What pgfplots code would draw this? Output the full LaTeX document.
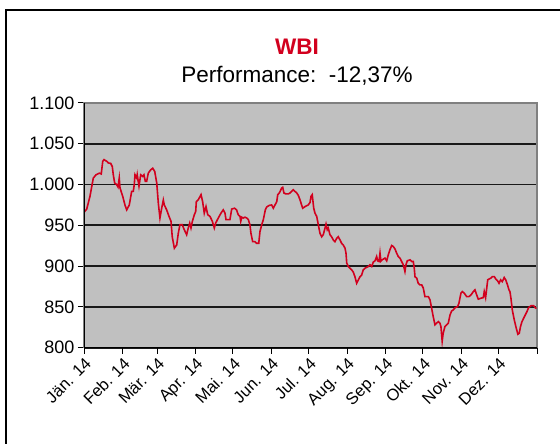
\documentclass[border=0pt]{standalone}
\usepackage{fontspec}
\setmainfont{Liberation Sans}
\usepackage{pgfplots}
\pgfplotsset{compat=1.18}
\definecolor{wbired}{RGB}{210,0,30}
\definecolor{bggray}{RGB}{192,192,192}
\definecolor{bordergray}{RGB}{128,128,128}
\begin{document}
\begin{tikzpicture}[x=1pt,y=1pt]
\useasboundingbox (0,0) rectangle (560,444);
\fill[white] (0,0) rectangle (560,444);
\draw[line width=1.4pt] (6,-20) -- (6,434) -- (600,434);
\node[anchor=base, text=wbired, font=\fontsize{22.5}{26}\selectfont\bfseries, inner sep=0pt] at (297,389) {WBI};
\node[anchor=base, font=\fontsize{22.5}{26}\selectfont, inner sep=0pt] at (297,361) {Performance:~~-12,37\%};
\begin{axis}[
  at={(84pt,96.3pt)}, anchor=south west,
  scale only axis, width=453pt, height=244.7pt,
  xmin=0, xmax=365, ymin=800, ymax=1100,
  xtick={0,31,59,90,120,151,181,212,243,273,304,334,365},
  xticklabels={Jän. 14,Feb. 14,Mär. 14,Apr. 14,Mai. 14,Jun. 14,Jul. 14,Aug. 14,Sep. 14,Okt. 14,Nov. 14,Dez. 14,{}},
  ytick={800,850,900,950,1000,1050,1100},
  yticklabels={800,850,900,950,1.000,1.050,1.100},
  axis background/.style={fill=bggray},
  ymajorgrids, major grid style={black!90, line width=1.8pt},
  axis line style={draw=bordergray, line width=1.5pt},
  tick align=outside, xtick pos=left, ytick pos=left,
  major tick length=6pt,
  every tick/.style={black, line width=1pt},
  y tick label style={font=\fontsize{18}{20}\selectfont},
  x tick label style={font=\fontsize{16.5}{18}\selectfont, rotate=45, anchor=north east, inner sep=2pt},
]
\addplot[wbired, line width=1.6pt, no marks] coordinates {
(0,966) (2.2,970) (4.8,985.5) (7.5,1008) (9.7,1012) (12.3,1014) (13.9,1013) (15.1,1028.5) (16.1,1030.6) (18.3,1028.5)
(19.6,1026.5) (21.5,1026) (22.8,1022) (23.6,1012) (24.7,1002) (26.3,1000) (27.4,997) (28.4,1008) (29.0,996) (31.2,985.5)
(33.0,975) (34.4,969) (36.5,975) (38.4,991.6) (39.7,991.6) (40.5,1000) (41.1,1012) (42.5,1008) (42.9,1012) (44.3,998)
(45.7,1012) (47.3,1010) (48.3,1012) (49.4,1004) (50.5,1004) (51.8,1014) (53.7,1018) (55.4,1020) (57.0,1016) (58.6,1002)
(59.9,977) (61.2,959) (62.6,971) (63.9,981) (64.7,975) (66.6,969) (68.5,961) (70.1,955) (71.1,936) (72.8,922)
(74.7,926) (76.0,940.5) (77.3,950.7) (79.2,950.7) (80.8,944.6) (82.7,938.5) (84.0,946.7) (85.2,952.8) (86.2,946.7) (87.3,954.8)
(88.9,963) (90.0,967) (90.5,979) (92.1,981.4) (94.3,987.6) (95.6,979) (96.9,965) (98.3,973) (99.7,963) (101.5,961)
(103.4,955) (105.0,946.7) (106.1,952.8) (108.2,959) (110.4,965) (112.2,969) (113.6,965) (114.4,957) (117.6,957) (119.0,970)
(121.3,971) (122.9,969) (124.3,963) (125.7,961) (126.3,955) (127.1,960) (128.3,959) (129.7,960) (131.1,959) (132.4,957)
(133.7,950.7) (134.5,940.5) (135.9,930) (137.8,930) (139.1,928) (140.8,928) (141.8,942.5) (143.2,950.7) (144.5,957) (146.1,969)
(147.2,972.5) (149.3,974.5) (151.2,975) (152.5,971) (153.9,975) (155.3,979) (156.1,987.6) (157.4,989.7) (159.3,995.8) (160.1,996.6)
(161.1,989.7) (162.7,988.5) (164.6,988.5) (166.0,989.7) (167.3,991.6) (168.6,993.7) (170.0,991.6) (171.4,989.7) (172.7,986.7) (174.0,981.4)
(176.2,971) (178.1,973) (180.7,975) (182.1,978) (182.9,985.5) (183.9,987.6) (185.1,971) (186.1,965) (187.5,961) (188.8,950.7)
(190.1,940.5) (191.5,936) (192.8,938.5) (194.2,946.7) (195.0,951.5) (196.0,944.6) (196.8,946.7) (198.2,938.5) (199.5,936) (200.9,932)
(202.2,930) (203.6,934) (204.9,936) (206.3,932) (207.6,928) (208.9,926) (210.3,922) (211.1,916) (211.7,903.7) (213.0,899.5)
(214.3,897.5) (215.7,895.4) (217.0,892.6) (218.3,887) (219.7,879) (221.0,883) (222.4,887) (223.7,889) (225.0,895.4) (226.4,897.5)
(229.1,899.5) (230.4,901.6) (231.8,899.5) (233.1,905) (234.5,906.5) (235.8,911.8) (236.6,906.5) (237.7,905.7) (238.5,916) (239.2,906)
(240.5,908) (242.5,909.8) (243.9,906.5) (245.2,914) (246.5,920) (247.9,925.3) (249.2,924) (250.6,921) (251.9,916) (253.2,911.8)
(254.6,909.8) (255.9,905.7) (257.3,901.6) (258.6,893.4) (259.4,901.6) (260.5,906.5) (262.7,907.7) (264.0,905.7) (265.3,905.7) (266.1,897.5)
(266.7,887) (268.1,885.3) (269.3,879) (270.7,877) (272.1,877) (273.4,873) (274.7,862.7) (276.1,862.7) (277.4,862.7) (278.8,858.6)
(280.1,848.4) (281.4,838) (282.8,828) (284.1,830) (285.5,832) (286.8,830) (287.6,825.8) (288.6,808) (289.4,817.7) (290.8,825.8)
(292.2,828) (293.5,830) (294.9,840) (296.2,845) (297.5,846.3) (299.0,849) (301.0,850.4) (302.1,854.5) (303.7,866.8) (304.8,868.8)
(306.4,866.8) (308.3,862.7) (310.2,862.7) (311.8,864.7) (313.7,868.8) (315.0,870.9) (316.4,864.7) (317.7,859.5) (319.9,860.7) (321.7,861.4)
(322.5,868.8) (323.6,861.4) (324.5,873) (325.3,883.2) (326.6,884.4) (327.9,885.3) (329.0,887.2) (330.6,887.2) (331.7,884.4) (333.3,881.9)
(334.4,879) (335.7,883.2) (337.0,881) (338.6,886) (339.8,883.2) (341.4,876.2) (342.4,870.9) (343.2,868.8) (344.0,860.7) (345.1,846.3)
(346.7,834) (348.3,823.8) (349.6,816.5) (350.7,817.7) (351.7,825.8) (352.9,832) (354.2,836) (355.5,840) (356.9,844.2) (358.2,849)
(360.3,851.6) (362.2,851.6) (363.6,849) (364.5,848)
};
\draw[black, line width=1.8pt] (rel axis cs:0,1) -- (rel axis cs:0,0) -- (rel axis cs:1,0);
\end{axis}
\end{tikzpicture}
\end{document}
